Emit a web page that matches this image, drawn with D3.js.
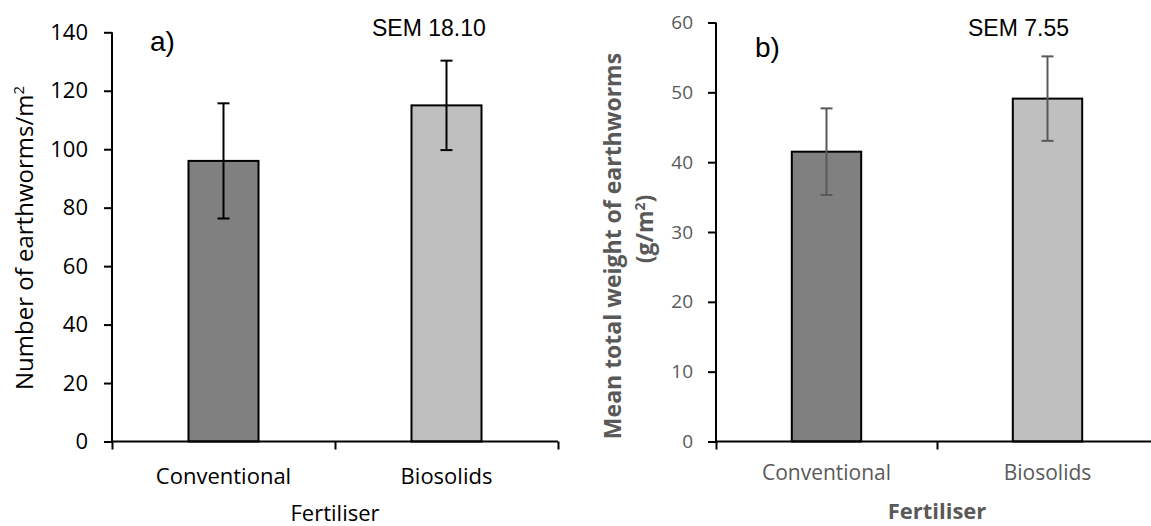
<!DOCTYPE html>
<html>
<head>
<meta charset="utf-8">
<script src="https://cdn.jsdelivr.net/npm/d3@7"></script>
<style>
  body { margin: 0; background: #fff; }
  svg { display: block; }
</style>
</head>
<body>
<svg id="chart" width="1151" height="526"></svg>
<script>
// Data
const categories = ['Conventional', 'Biosolids'];
const countMeans = [96, 115];
const countErrors = [19.7, 15.3];
const weightMeans = [41.5, 49.1];
const weightErrors = [6.2, 6.05];
const countTicks = [0, 20, 40, 60, 80, 100, 120, 140];
const weightTicks = [0, 10, 20, 30, 40, 50, 60];
const barColors = ['#808080', '#bfbfbf'];

const svg = d3.select('#chart');
const plotBottom = 441.5;

function drawPanel(opt) {
  const g = svg.append('g');

  // Scales
  const x = d3.scaleBand()
    .domain(categories)
    .range([opt.left, opt.right])
    .paddingInner(0.686)
    .paddingOuter(0.343);
  const edges = d3.scaleLinear()
    .domain([0, categories.length])
    .range([opt.left, opt.right]);
  const y = d3.scaleLinear()
    .domain([0, opt.max])
    .range([plotBottom, opt.top]);

  // Bars
  g.selectAll('rect')
    .data(opt.means)
    .join('rect')
      .attr('x', (d, i) => x(categories[i]))
      .attr('y', d => y(d))
      .attr('width', x.bandwidth())
      .attr('height', d => y(0) - y(d))
      .attr('fill', (d, i) => barColors[i])
      .attr('stroke', '#000')
      .attr('stroke-width', 2);

  // Error bars
  const cx = i => x(categories[i]) + x.bandwidth() / 2;
  opt.means.forEach((m, i) => {
    const e = opt.errors[i];
    g.append('line')
      .attr('x1', cx(i)).attr('x2', cx(i))
      .attr('y1', y(m - e)).attr('y2', y(m + e))
      .attr('stroke', opt.errColor).attr('stroke-width', 2);
    [m - e, m + e].forEach(v => {
      g.append('line')
        .attr('x1', cx(i) - 6).attr('x2', cx(i) + 6)
        .attr('y1', y(v)).attr('y2', y(v))
        .attr('stroke', opt.errColor).attr('stroke-width', 2);
    });
  });

  // Y axis
  const yAxis = g.append('g')
    .attr('transform', `translate(${opt.left},0)`)
    .call(d3.axisLeft(y).tickValues(opt.ticks).tickSize(8).tickPadding(opt.tickPad));
  yAxis.select('.domain').attr('stroke-width', 2).attr('d', `M0,${y(0)}V${y(opt.max)}`);
  yAxis.selectAll('.tick line').attr('stroke-width', 2);
  yAxis.selectAll('.tick text')
    .attr('font-family', 'Open Sans')
    .attr('font-size', opt.tickSize)
    .attr('fill', opt.textColor);

  // X axis
  const xEdges = g.append('g')
    .attr('transform', `translate(0,${plotBottom})`)
    .call(d3.axisBottom(edges).ticks(categories.length).tickSize(8).tickFormat(''));
  xEdges.select('.domain').attr('stroke-width', 2).attr('d', `M${opt.left},0H${opt.right}`);
  xEdges.selectAll('.tick line').attr('stroke-width', 2);

  const xLabels = g.append('g')
    .attr('transform', `translate(0,${plotBottom})`)
    .call(d3.axisBottom(x).tickSize(0).tickPadding(opt.catPad));
  xLabels.select('.domain').remove();
  xLabels.selectAll('.tick text')
    .attr('font-family', 'Open Sans')
    .attr('font-size', opt.catSize)
    .attr('fill', opt.textColor);

  // Axis titles
  g.append('text')
    .attr('x', (opt.left + opt.right) / 2)
    .attr('y', opt.xTitleY)
    .attr('text-anchor', 'middle')
    .attr('font-family', 'Open Sans')
    .attr('font-size', opt.xTitleSize)
    .attr('font-weight', opt.titleWeight)
    .attr('fill', opt.textColor)
    .text('Fertiliser');

  opt.yTitle.forEach((line, k) => {
    g.append('text')
      .attr('transform', `translate(${opt.yTitleX[k]},${opt.yTitleMid[k]}) rotate(-90)`)
      .attr('text-anchor', 'middle')
      .attr('font-family', 'Open Sans')
      .attr('font-size', opt.yTitleSize)
      .attr('font-weight', opt.titleWeight)
      .attr('fill', opt.textColor)
      .html(line);
  });

  // Panel letter and SEM
  g.append('text')
    .attr('x', opt.letterX).attr('y', opt.letterY)
    .attr('font-family', 'Liberation Sans')
    .attr('font-size', 28)
    .text(opt.letter);
  g.append('text')
    .attr('x', opt.semX).attr('y', 36)
    .attr('font-family', 'Liberation Sans')
    .attr('font-size', 23)
    .text(opt.sem);
}

// Panel a
drawPanel({
  left: 112, right: 558, top: 32.3, max: 140,
  means: countMeans, errors: countErrors, ticks: countTicks,
  errColor: '#000', textColor: '#000',
  tickSize: 22, tickPad: 16, catSize: 22, catPad: 27,
  xTitleY: 521, xTitleSize: 22, titleWeight: 'normal',
  yTitle: ['Number of earthworms/m<tspan dy="-9" font-size="15">2</tspan>'],
  yTitleX: [33], yTitleMid: [238], yTitleSize: 24,
  letter: 'a)', letterX: 150, letterY: 51,
  sem: 'SEM 18.10', semX: 372
});

// Panel b
drawPanel({
  left: 716, right: 1158, top: 22.5, max: 60,
  means: weightMeans, errors: weightErrors, ticks: weightTicks,
  errColor: '#595959', textColor: '#595959',
  tickSize: 19, tickPad: 15, catSize: 21, catPad: 24,
  xTitleY: 519, xTitleSize: 22, titleWeight: 'bold',
  yTitle: ['Mean total weight of earthworms', '(g/m<tspan dy="-8" font-size="14">2</tspan><tspan dy="8">)</tspan>'],
  yTitleX: [621, 653], yTitleMid: [246, 229], yTitleSize: 23,
  letter: 'b)', letterX: 755, letterY: 57,
  sem: 'SEM 7.55', semX: 968
});
</script>
</body>
</html>
